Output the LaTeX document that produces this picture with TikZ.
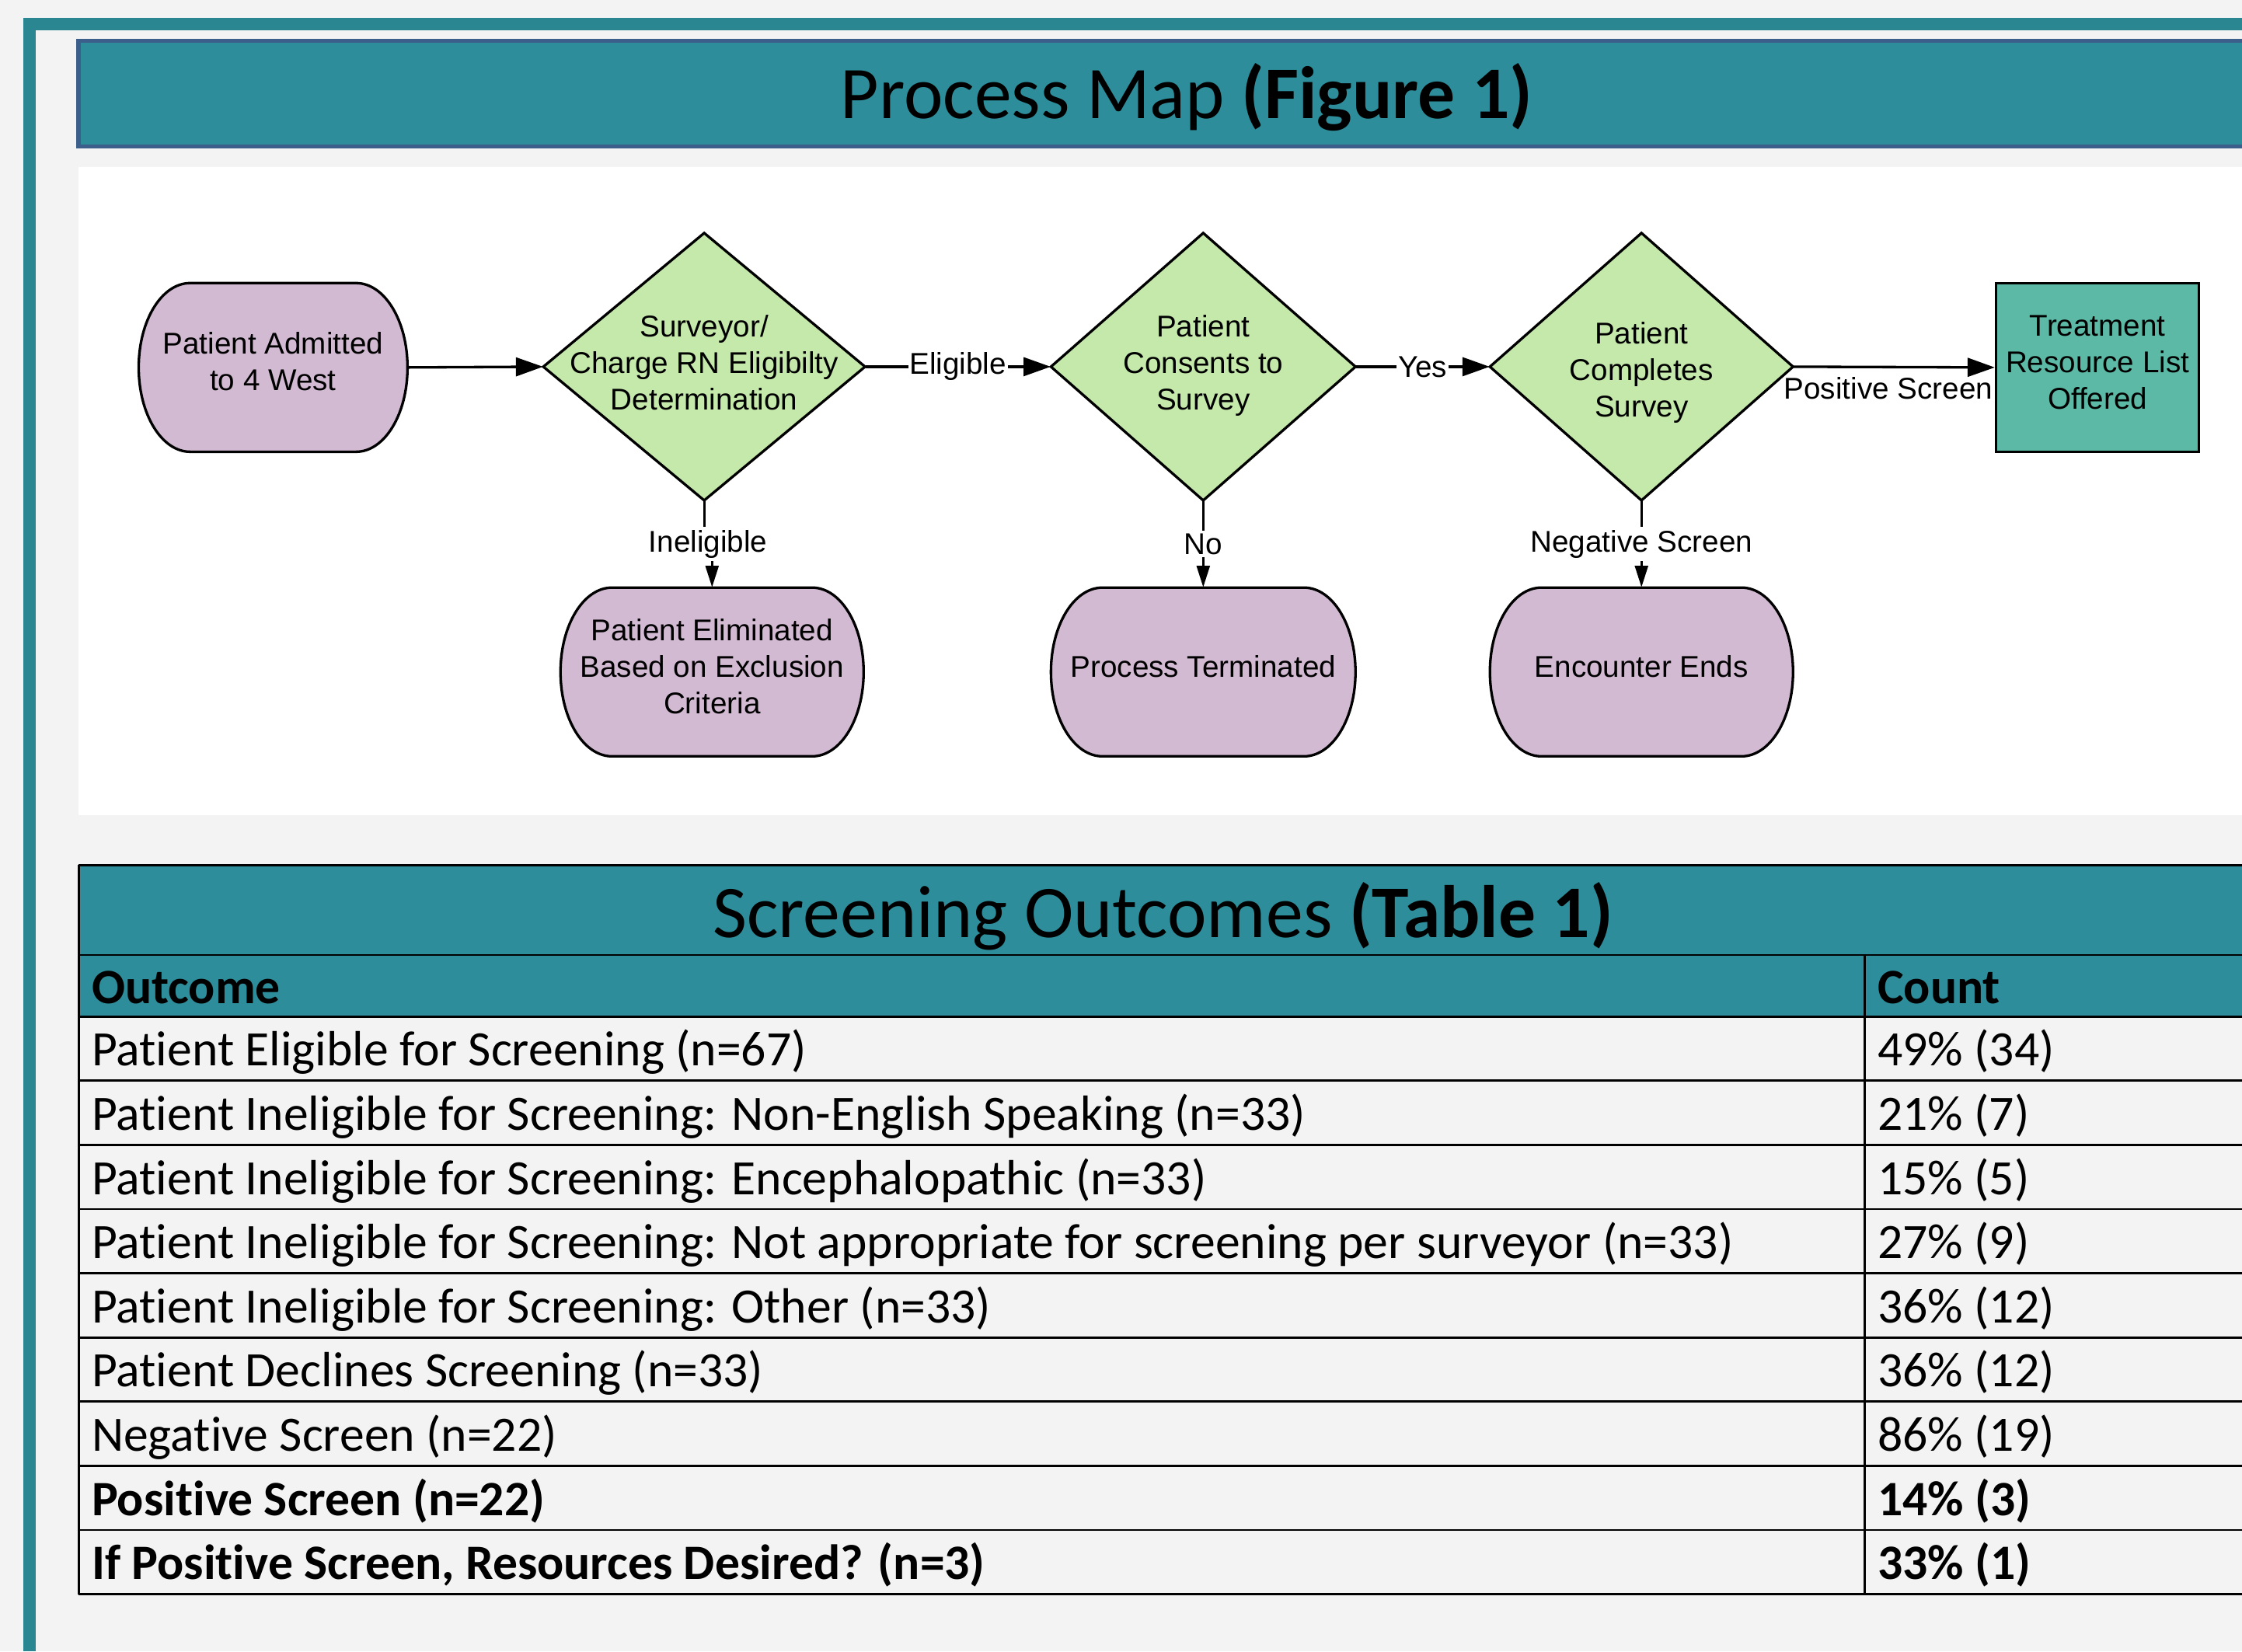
\documentclass[tikz,border=0pt]{standalone}
\usepackage{fontspec}
\setmainfont{Carlito}[Ligatures=NoCommon]
\newfontfamily\flowfont{Liberation Sans}
\usetikzlibrary{arrows.meta,calc}
\definecolor{pagegray}{HTML}{F3F3F3}
\definecolor{frameteal}{HTML}{2A8792}
\definecolor{bannerteal}{HTML}{2D8D9A}
\definecolor{bannerblue}{HTML}{3B5F8A}
\definecolor{lilac}{HTML}{D2BAD2}
\definecolor{leaf}{HTML}{C5E8AB}
\definecolor{sea}{HTML}{5BB9A5}
\tikzset{
  shapeline/.style={draw=black, line width=1.8pt},
  flowline/.style={black, line width=1.8pt},
  htip/.style={-{Triangle[length=19pt,width=13pt]}},
  vtip/.style={-{Triangle[length=15pt,width=9pt]}},
  flowtext/.style={font=\flowfont\fontsize{21}{25.5}\selectfont, align=center, inner sep=0pt},
  termnode/.style={inner sep=0pt, minimum width=212, minimum height=118},
  decnode/.style={inner sep=0pt, minimum width=#1, minimum height=187},
  lbl/.style={font=\flowfont\fontsize{21}{25}\selectfont, fill=white, inner sep=2pt},
  cell/.style={font=\fontsize{34.6}{40}\selectfont, inner sep=0pt, anchor=base west},
  bigtitle/.style={font=\fontsize{52}{60}\selectfont, inner sep=0pt, anchor=base},
  grid/.style={black, line width=1.5pt},
  pics/terminal/.style={code={
    \draw[shapeline, fill=lilac] ({-#1+36},-59) -- ({#1-36},-59)
      .. controls ({#1-16},-59) and (#1,-32.6) .. (#1,0)
      .. controls (#1,32.6) and ({#1-16},59) .. ({#1-36},59)
      -- ({-#1+36},59)
      .. controls ({-#1+16},59) and (-#1,32.6) .. (-#1,0)
      .. controls (-#1,-32.6) and ({-#1+16},-59) .. cycle;}},
  pics/decision/.style={code={
    \draw[shapeline, fill=leaf] (-#1,0) -- (0,-93.5) -- (#1,0) -- (0,93.5) -- cycle;}}
}
\begin{document}
\begin{tikzpicture}[x=1pt,y=-1pt]
  \useasboundingbox (0,0) rectangle (1568,1155);
  \clip (0,0) rectangle (1568,1155);
  \fill[pagegray] (0,0) rectangle (1568,1155);
  % poster frame
  \fill[frameteal] (16.5,12.7) rectangle (1568,21.4);
  \fill[frameteal] (16.5,12.7) rectangle (25,1155);
  % figure banner
  \draw[line width=3pt, draw=bannerblue, fill=bannerteal] (55,28.5) rectangle (1580,102.5);
  \node[bigtitle] (figtitle) at (830,83) {Process Map \textbf{(Figure 1)}};
  % process map
  \fill[white] (55,117) rectangle (1568,570);
  \pic at (191,257) {terminal=94};
  \pic at (498,470) {terminal=106};
  \pic at (841.5,470) {terminal=106.5};
  \pic at (1148,470) {terminal=106};
  \pic at (492.5,256.5) {decision=112.5};
  \pic at (841.5,256.5) {decision=106.5};
  \pic at (1148,256.5) {decision=106};
  \node[termnode, minimum width=188, label={[flowtext, yshift=4pt]center:Patient Admitted\\to 4 West}] (admit) at (191,257) {};
  \node[decnode=225, label={[flowtext, yshift=3pt]center:Surveyor/\\Charge RN Eligibilty\\Determination}] (elig) at (492.5,256.5) {};
  \node[decnode=213, label={[flowtext, yshift=1pt]center:Patient\\Consents to\\Survey}] (consent) at (841.5,256.5) {};
  \node[decnode=212, label={[flowtext, yshift=-4pt]center:Patient\\Completes\\Survey}] (complete) at (1148,256.5) {};
  \node[shapeline, fill=sea, inner sep=0pt, minimum width=142, minimum height=118, label={[flowtext, yshift=3.5pt]center:Treatment\\Resource List\\Offered}] (treat) at (1467,257) {};
  \node[termnode, label={[flowtext, yshift=4pt]center:Patient Eliminated\\Based on Exclusion\\Criteria}] (elim) at (498,470) {};
  \node[termnode, minimum width=213, label={[flowtext, yshift=4pt]center:Process Terminated}] (term) at (841.5,470) {};
  \node[termnode, label={[flowtext, yshift=4pt]center:Encounter Ends}] (ends) at (1148,470) {};
  \draw[flowline, htip] (admit.east) -- (elig.west);
  \draw[flowline, htip] (elig.east) -- node[lbl, inner sep=1pt]{Eligible} (consent.west);
  \draw[flowline, htip] (consent.east) -- node[lbl, inner sep=1pt]{Yes} (complete.west);
  \draw[flowline, htip] (complete.east) -- node[lbl, fill=none, below=4pt, xshift=-4pt]{Positive Screen} (treat.west);
  \draw[flowline, vtip] (elig.south) |- ($(elig.south)!.5!(elim.north)$) node[lbl]{Ineligible} -| (elim.north);
  \draw[flowline, vtip] (consent.south) -- node[lbl]{No} (term.north);
  \draw[flowline, vtip] (complete.south) -- node[lbl]{Negative Screen} (ends.north);
  % screening table
  \fill[bannerteal] (55,605) rectangle (1568,711);
  \node[bigtitle] (tabtitle) at (813.5,655.5) {Screening Outcomes \textbf{(Table 1)}};
  \node[cell] (hdout) at (64,702) {\bfseries Outcome};
  \node[cell] (hdcnt) at (1313,702) {\bfseries Count};
  \foreach \txt/\cnt [count=\i from 0] in {
    {Patient Eligible for Screening (n=67)}/{49\% (34)},
    {Patient Ineligible for Screening: Non-English Speaking (n=33)}/{21\% (7)},
    {Patient Ineligible for Screening: Encephalopathic (n=33)}/{15\% (5)},
    {Patient Ineligible for Screening: Not appropriate for screening per surveyor (n=33)}/{27\% (9)},
    {Patient Ineligible for Screening: Other (n=33)}/{36\% (12)},
    {Patient Declines Screening (n=33)}/{36\% (12)},
    {Negative Screen (n=22)}/{86\% (19)},
    {\bfseries Positive Screen (n=22)}/{\bfseries 14\% (3)},
    {\bfseries If Positive Screen, Resources Desired? (n=3)}/{\bfseries 33\% (1)}}
  {
    \node[cell] (out\i) at (64,{745.6+44.9*\i}) {\txt};
    \node[cell] (cnt\i) at (1313,{745.6+44.9*\i}) {\cnt};
    \draw[grid] (55,{755.9+44.9*\i}) -- (1568,{755.9+44.9*\i});
  }
  \draw[grid] (55,605) -- (1568,605);
  \draw[grid] (55,668) -- (1568,668);
  \draw[grid] (55,711) -- (1568,711);
  \draw[grid] (55,605) -- (55,1115.1);
  \draw[grid] (1304,668) -- (1304,1115.1);
\end{tikzpicture}
\end{document}
